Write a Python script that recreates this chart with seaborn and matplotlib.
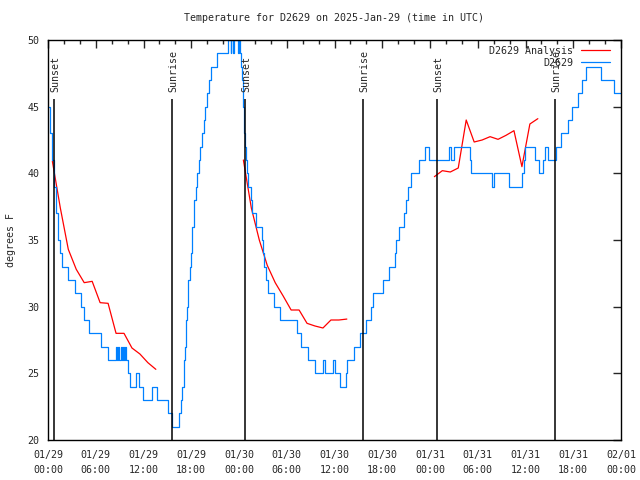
import numpy as np
import pandas as pd
import matplotlib
matplotlib.use("Agg")
import matplotlib.pyplot as plt
import seaborn as sns

# hours after 2025-01-29 00:00 UTC where the observed temperature changes (deg F)
obs_hours = [0.0, 0.2, 0.3, 0.45, 0.55, 0.7, 0.8, 0.95, 1.05, 1.2, 1.3, 1.5, 1.75,
             2.55, 3.35, 4.15, 4.5, 5.15, 6.65, 7.55,
             8.55, 8.7, 8.8, 8.95, 9.15, 9.3, 9.4, 9.55, 9.65, 9.8, 10.0, 10.3,
             11.05, 11.45, 11.9, 13.05, 13.7, 15.1, 15.6,
             16.45, 16.7, 16.9, 17.05, 17.15, 17.2, 17.3, 17.4, 17.45, 17.55, 17.65,
             17.85, 18.0, 18.1, 18.15, 18.3, 18.4, 18.6, 18.7, 19.0, 19.15, 19.35,
             19.55, 19.75, 20.0, 20.2, 20.5, 21.25,
             22.6, 22.95, 23.05, 23.25, 23.35, 23.9, 24.0,
             24.15, 24.25, 24.4, 24.45, 24.5, 24.6, 24.65, 24.75, 24.9, 25.0, 25.15,
             25.45, 25.65, 26.1, 26.85, 27.0, 27.15, 27.45, 27.65, 28.4, 29.1,
             31.3, 31.85, 32.65, 33.6, 34.55, 34.85, 35.8, 36.1, 36.7,
             37.45, 37.55, 38.5, 39.2, 39.9, 40.6, 40.9, 42.05, 42.8, 43.55, 43.75,
             44.15, 44.75, 45.0, 45.25, 45.6, 46.6, 47.35, 47.85,
             50.4, 50.65, 51.0, 53.0, 53.15, 55.85, 56.05, 57.95,
             59.55, 59.75, 59.95, 61.15, 61.65, 62.15, 62.4, 62.85,
             63.85, 64.45, 65.3, 65.85, 66.6, 67.05, 67.55, 69.5, 71.1, 72.0]
obs_temps = [45, 44, 43, 42, 41, 40, 39, 38, 37, 36, 35, 34, 33,
             32, 31, 30, 29, 28, 27, 26,
             27, 26, 27, 26, 27, 26, 27, 26, 27, 26, 25, 24,
             25, 24, 23, 24, 23, 22, 21,
             22, 23, 24, 25, 26, 27, 28, 29, 30, 31, 32,
             33, 34, 35, 36, 37, 38, 39, 40, 41, 42, 43,
             44, 45, 46, 47, 48, 49,
             50, 49, 50, 49, 50, 49, 50,
             49, 48, 47, 46, 45, 44, 43, 42, 41, 40, 39,
             38, 37, 36, 35, 34, 33, 32, 31, 30, 29,
             28, 27, 26, 25, 26, 25, 26, 25, 24,
             25, 26, 27, 28, 29, 30, 31, 32, 33, 34, 35,
             36, 37, 38, 39, 40, 41, 42, 41,
             42, 41, 42, 41, 40, 39, 40, 39,
             40, 41, 42, 41, 40, 41, 42, 41,
             42, 43, 44, 45, 46, 47, 48, 47, 46, 46]

# hourly analysis values, three evening runs
ana_hours = [0.55, 1.55, 2.55, 3.55, 4.55, 5.55, 6.55, 7.55, 8.55, 9.55, 10.55, 11.55, 12.55, 13.55,
             24.55, 25.55, 26.55, 27.55, 28.55, 29.55, 30.55, 31.55, 32.55, 33.55, 34.55, 35.55, 36.55, 37.55,
             48.55, 49.55, 50.55, 51.55, 52.55, 53.55, 54.55, 55.55, 56.55, 57.55, 58.55, 59.55, 60.55, 61.55]
ana_temps = [40.9, 37.4, 34.3, 32.8, 31.8, 31.9, 30.3, 30.25, 28.0, 28.0, 26.9, 26.45, 25.8, 25.3,
             41.0, 37.4, 35.0, 33.1, 31.8, 30.8, 29.75, 29.75, 28.75, 28.55, 28.4, 29.0, 29.0, 29.07,
             39.75, 40.2, 40.1, 40.4, 44.0, 42.35, 42.5, 42.75, 42.55, 42.85, 43.2, 40.5, 43.7, 44.1]
ana_run = [1] * 14 + [2] * 14 + [3] * 14

# sunset / sunrise markers
sun_hours = [0.8, 15.62, 24.8, 39.63, 48.92, 63.75]
sun_labels = ["Sunset", "Sunrise", "Sunset", "Sunrise", "Sunset", "Sunrise"]

tick_hours = list(range(0, 73, 6))
tick_labels = ["01/29\n00:00", "01/29\n06:00", "01/29\n12:00", "01/29\n18:00",
               "01/30\n00:00", "01/30\n06:00", "01/30\n12:00", "01/30\n18:00",
               "01/31\n00:00", "01/31\n06:00", "01/31\n12:00", "01/31\n18:00",
               "02/01\n00:00"]

sns.set_style("white")
plt.rcParams["font.family"] = ["DejaVu Sans Mono"]
fs = 7.2

fig = plt.figure(figsize=(6.4, 4.8), dpi=100)
ax = fig.add_axes([48 / 640, 40 / 480, 573 / 640, 400 / 480])

obs = pd.DataFrame({"hour": obs_hours, "temp": obs_temps})
ana = pd.DataFrame({"hour": ana_hours, "temp": ana_temps, "run": ana_run})

# one line per analysis run so the gaps stay open
for run, part in ana.groupby("run"):
    sns.lineplot(data=part, x="hour", y="temp", estimator=None, sort=False,
                 color="#ff0000", lw=0.9, ax=ax,
                 label="D2629 Analysis" if run == 1 else None)
sns.lineplot(data=obs, x="hour", y="temp", estimator=None, drawstyle="steps-post",
             color="#0080ff", lw=0.9, ax=ax, label="D2629", sort=False)

# sun event lines with rotated labels
for t, lab in zip(sun_hours, sun_labels):
    ax.vlines(t, 20, 45.55, color="black", lw=1.1)
    ax.text(t + 0.15, 46.1, lab, rotation=90, ha="center", va="bottom", fontsize=fs)

ax.set_xlim(0, 72)
ax.set_ylim(20, 50)
ax.set_xticks(tick_hours)
ax.set_xticklabels(tick_labels, fontsize=fs, linespacing=1.6)
ax.set_xticks(np.arange(0, 73, 2), minor=True)
ax.set_yticks(range(20, 51, 5))
ax.tick_params(axis="y", labelsize=fs)
ax.tick_params(which="major", direction="in", top=True, right=True, length=6, width=1, pad=6)
ax.tick_params(axis="x", which="major", pad=7)
ax.tick_params(which="minor", direction="in", top=True, right=False, length=3, width=1)
for s in ax.spines.values():
    s.set_color("black")
    s.set_linewidth(1.0)

ax.set_xlabel("")
ax.set_ylabel("degrees F", fontsize=fs)
ax.yaxis.set_label_coords(-0.056, 0.5)
ax.set_title("Temperature for D2629 on 2025-Jan-29 (time in UTC)", fontsize=fs, pad=14)

handles, labels = ax.get_legend_handles_labels()
ax.legend(handles, labels, loc="upper right", bbox_to_anchor=(1 - 5 / 573, 1),
          markerfirst=False, frameon=False, fontsize=fs,
          handlelength=2.9, handletextpad=0.8, labelspacing=0.2, borderaxespad=0.2)

fig.savefig("out.png", dpi=100)
